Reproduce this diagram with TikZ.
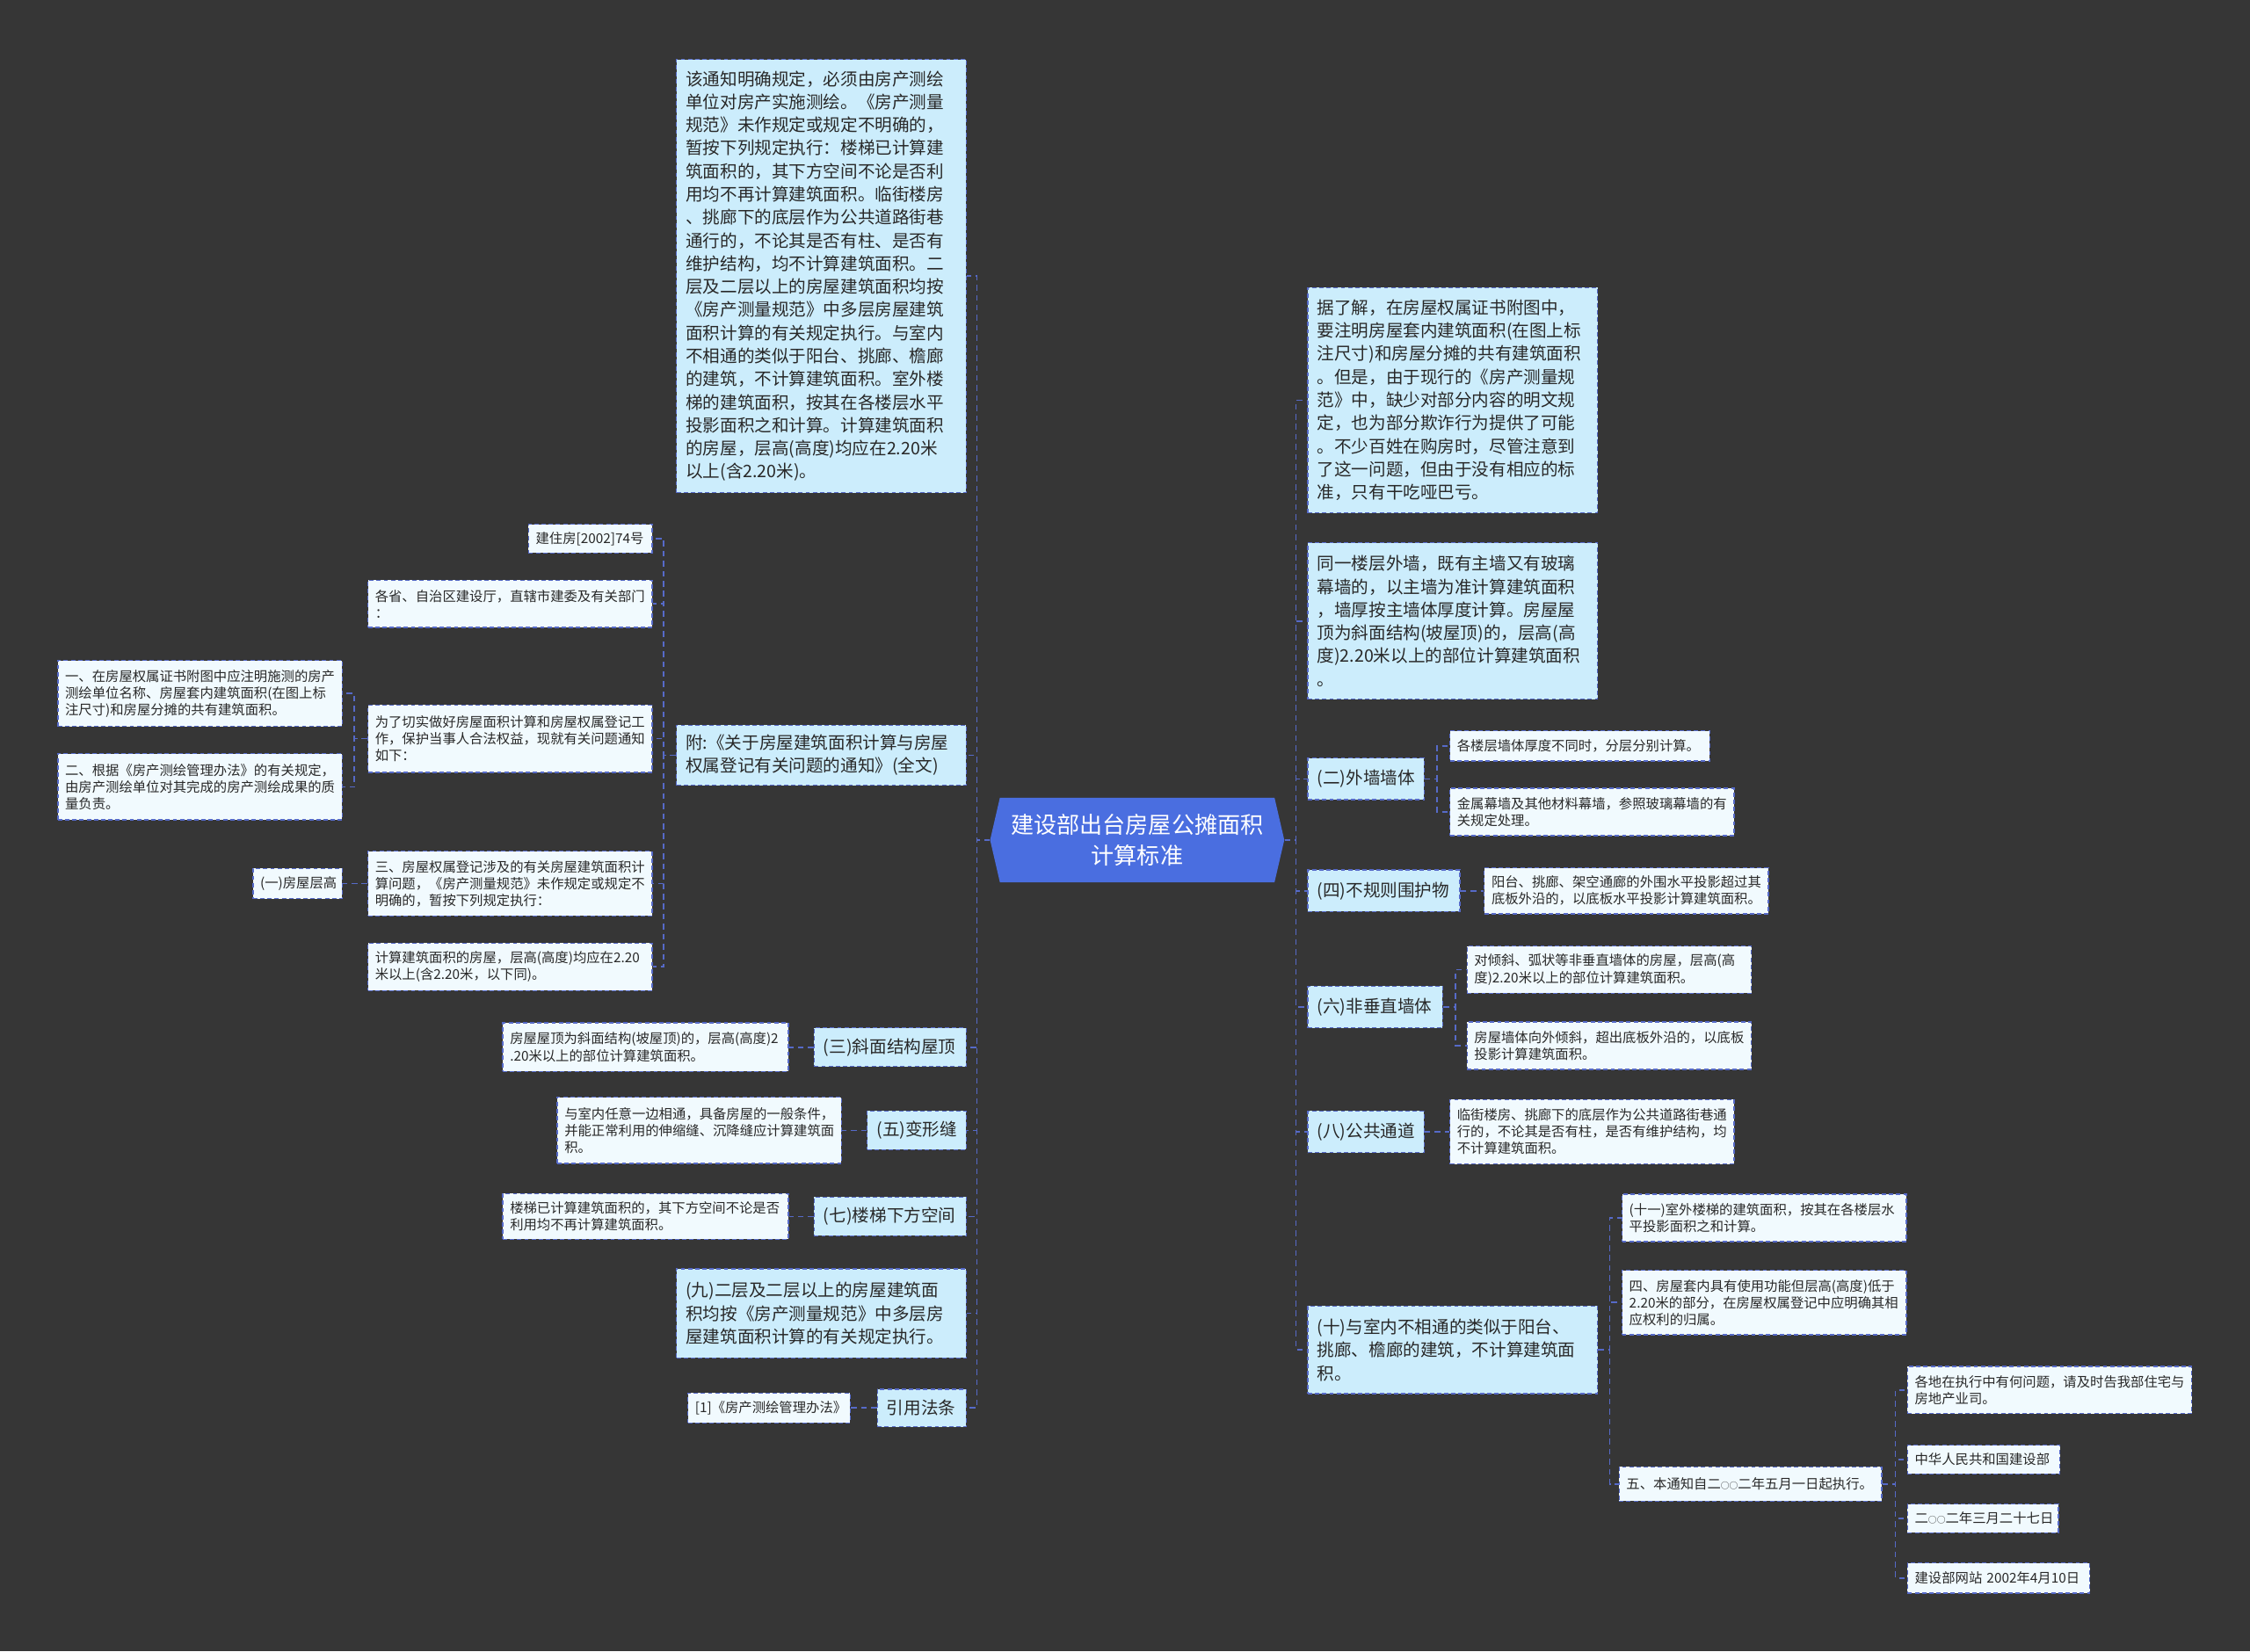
\documentclass[tikz,border=0pt]{standalone}
\usepackage{fontspec}
\setmainfont{Noto Sans CJK SC}
\usepackage{tikz}
\usetikzlibrary{shapes.symbols}
\definecolor{bgdark}{RGB}{54,54,54}
\definecolor{boxblue}{RGB}{204,237,252}
\definecolor{boxpale}{RGB}{241,250,254}
\definecolor{linkblue}{RGB}{86,106,200}
\definecolor{rootblue}{RGB}{74,110,224}
\definecolor{inkgray}{RGB}{40,40,40}
\newcommand\lingq{{\fontsize{6}{6}\selectfont ○}}

\begin{document}
\begin{tikzpicture}[x=1pt,y=-1pt,
    lone/.style={draw=linkblue,dash pattern=on 3pt off 2pt,line width=0.8pt,fill=boxblue,text=inkgray,
      anchor=north west,align=left,inner xsep=6.5pt,inner ysep=0pt,font=\fontsize{12}{16.1}\selectfont},
    ltwo/.style={draw=linkblue,dash pattern=on 3pt off 2pt,line width=0.8pt,fill=boxpale,text=inkgray,
      anchor=north west,align=left,inner xsep=5pt,inner ysep=0pt,font=\fontsize{9.4}{11.7}\selectfont},
    link/.style={draw=linkblue,dash pattern=on 4pt off 3pt,line width=1pt}]
  \fill[bgdark] (0,0) rectangle (1568,1151);
  \useasboundingbox (0,0) rectangle (1568,1151);

  \node[signal,signal to=west and east,signal pointer angle=154,fill=rootblue,text=white,
    minimum width=205pt,minimum height=59pt,inner sep=0pt,align=center,
    font=\fontsize{16}{21}\selectfont] (root) at (792.5,585.5) {建设部出台房屋公摊面积\\计算标准};

  \node[lone,text width=189pt,minimum height=302pt] (note) at (471,41) {该通知明确规定，必须由房产测绘\\单位对房产实施测绘。《房产测量\\规范》未作规定或规定不明确的，\\暂按下列规定执行：楼梯已计算建\\筑面积的，其下方空间不论是否利\\用均不再计算建筑面积。临街楼房\\、挑廊下的底层作为公共道路街巷\\通行的，不论其是否有柱、是否有\\维护结构，均不计算建筑面积。二\\层及二层以上的房屋建筑面积均按\\《房产测量规范》中多层房屋建筑\\面积计算的有关规定执行。与室内\\不相通的类似于阳台、挑廊、檐廊\\的建筑，不计算建筑面积。室外楼\\梯的建筑面积，按其在各楼层水平\\投影面积之和计算。计算建筑面积\\的房屋，层高(高度)均应在2.20米\\以上(含2.20米)。};
  \node[lone,text width=189pt,minimum height=42pt] (fu) at (471,505) {附:《关于房屋建筑面积计算与房屋\\权属登记有关问题的通知》(全文)};
  \node[lone,text width=93pt,minimum height=27pt] (xmwd) at (567,716) {(三)斜面结构屋顶};
  \node[lone,text width=56pt,minimum height=27pt] (bxf) at (604,774) {(五)变形缝};
  \node[lone,text width=93pt,minimum height=27pt] (ltkj) at (567,834) {(七)楼梯下方空间};
  \node[lone,text width=189pt,minimum height=62pt] (jiu) at (471,884) {(九)二层及二层以上的房屋建筑面\\积均按《房产测量规范》中多层房\\屋建筑面积计算的有关规定执行。};
  \node[lone,text width=49pt,minimum height=26pt] (yyfl) at (611,968) {引用法条};

  \node[ltwo,text width=76pt,minimum height=20pt] (wenhao) at (368,365) {建住房[2002]74号};
  \node[ltwo,text width=188pt,minimum height=33pt] (gesheng) at (256,404) {各省、自治区建设厅，直辖市建委及有关部门\\：};
  \node[ltwo,text width=188pt,minimum height=47pt] (weile) at (256,491) {为了切实做好房屋面积计算和房屋权属登记工\\作，保护当事人合法权益，现就有关问题通知\\如下：};
  \node[ltwo,text width=188pt,minimum height=45pt] (san) at (256,593) {三、房屋权属登记涉及的有关房屋建筑面积计\\算问题，《房产测量规范》未作规定或规定不\\明确的，暂按下列规定执行：};
  \node[ltwo,text width=188pt,minimum height=33pt] (jisuan) at (256,657) {计算建筑面积的房屋，层高(高度)均应在2.20\\米以上(含2.20米，以下同)。};
  \node[ltwo,text width=189pt,minimum height=34pt] (wuding) at (350,712.5) {房屋屋顶为斜面结构(坡屋顶)的，层高(高度)2\\.20米以上的部位计算建筑面积。};
  \node[ltwo,text width=188pt,minimum height=46pt] (shinei) at (388,764.5) {与室内任意一边相通，具备房屋的一般条件，\\并能正常利用的伸缩缝、沉降缝应计算建筑面\\积。};
  \node[ltwo,text width=189pt,minimum height=32pt] (louti) at (350,831.5) {楼梯已计算建筑面积的，其下方空间不论是否\\利用均不再计算建筑面积。};
  \node[ltwo,text width=103pt,minimum height=21pt] (banfa) at (479,970.5) {[1]《房产测绘管理办法》};

  \node[ltwo,text width=188pt,minimum height=46pt] (yi) at (40,460) {一、在房屋权属证书附图中应注明施测的房产\\测绘单位名称、房屋套内建筑面积(在图上标\\注尺寸)和房屋分摊的共有建筑面积。};
  \node[ltwo,text width=188pt,minimum height=46pt] (er) at (40,525) {二、根据《房产测绘管理办法》的有关规定，\\由房产测绘单位对其完成的房产测绘成果的质\\量负责。};
  \node[ltwo,text width=52pt,minimum height=21pt] (cenggao) at (176,605) {(一)房屋层高};

  \node[lone,text width=189pt,minimum height=157pt] (liaojie) at (911,200) {据了解，在房屋权属证书附图中，\\要注明房屋套内建筑面积(在图上标\\注尺寸)和房屋分摊的共有建筑面积\\。但是，由于现行的《房产测量规\\范》中，缺少对部分内容的明文规\\定，也为部分欺诈行为提供了可能\\。不少百姓在购房时，尽管注意到\\了这一问题，但由于没有相应的标\\准，只有干吃哑巴亏。};
  \node[lone,text width=189pt,minimum height=109pt] (waiqiang) at (911,378) {同一楼层外墙，既有主墙又有玻璃\\幕墙的，以主墙为准计算建筑面积\\，墙厚按主墙体厚度计算。房屋屋\\顶为斜面结构(坡屋顶)的，层高(高\\度)2.20米以上的部位计算建筑面积\\。};
  \node[lone,text width=68pt,minimum height=29pt] (wqqt) at (911,528) {(二)外墙墙体};
  \node[lone,text width=93pt,minimum height=29pt] (bgzw) at (911,606) {(四)不规则围护物};
  \node[lone,text width=81pt,minimum height=29pt] (fczq) at (911,687) {(六)非垂直墙体};
  \node[lone,text width=68pt,minimum height=29pt] (ggtd) at (911,774) {(八)公共通道};
  \node[lone,text width=189pt,minimum height=61pt] (shi) at (911,910) {(十)与室内不相通的类似于阳台、\\挑廊、檐廊的建筑，不计算建筑面\\积。};

  \node[ltwo,text width=171pt,minimum height=21pt] (houdu) at (1010,509) {各楼层墙体厚度不同时，分层分别计算。};
  \node[ltwo,text width=188pt,minimum height=33pt] (jinshu) at (1010,549) {金属幕墙及其他材料幕墙，参照玻璃幕墙的有\\关规定处理。};
  \node[ltwo,text width=188pt,minimum height=32pt] (yangtai) at (1034,604.5) {阳台、挑廊、架空通廊的外围水平投影超过其\\底板外沿的，以底板水平投影计算建筑面积。};
  \node[ltwo,text width=188pt,minimum height=33pt] (qingxie) at (1022,659) {对倾斜、弧状等非垂直墙体的房屋，层高(高\\度)2.20米以上的部位计算建筑面积。};
  \node[ltwo,text width=188pt,minimum height=33pt] (xiangwai) at (1022,712) {房屋墙体向外倾斜，超出底板外沿的，以底板\\投影计算建筑面积。};
  \node[ltwo,text width=188pt,minimum height=45pt] (linjie) at (1010,766) {临街楼房、挑廊下的底层作为公共道路街巷通\\行的，不论其是否有柱，是否有维护结构，均\\不计算建筑面积。};
  \node[ltwo,text width=188pt,minimum height=33pt] (shiyi) at (1130,832) {(十一)室外楼梯的建筑面积，按其在各楼层水\\平投影面积之和计算。};
  \node[ltwo,text width=188pt,minimum height=45pt] (si) at (1130,885) {四、房屋套内具有使用功能但层高(高度)低于\\2.20米的部分，在房屋权属登记中应明确其相\\应权利的归属。};
  \node[ltwo,text width=173pt,minimum height=24pt] (wu) at (1128,1022) {五、本通知自二\lingq\lingq 二年五月一日起执行。};

  \node[ltwo,text width=188pt,minimum height=33pt] (gedi) at (1329,952) {各地在执行中有何问题，请及时告我部住宅与\\房地产业司。};
  \node[ltwo,text width=96pt,minimum height=20pt] (buming) at (1329,1007) {中华人民共和国建设部};
  \node[ltwo,text width=95pt,minimum height=20pt] (riqi) at (1329,1048) {二\lingq\lingq 二年三月二十七日};
  \node[ltwo,text width=117pt,minimum height=21pt] (wangzhan) at (1329,1089) {建设部网站 2002年4月10日};

  \draw[link] (root.west) -- ++(-9,0) |- (note.east);
  \draw[link] (root.west) -- ++(-9,0) |- (fu.east);
  \draw[link] (root.west) -- ++(-9,0) |- (xmwd.east);
  \draw[link] (root.west) -- ++(-9,0) |- (bxf.east);
  \draw[link] (root.west) -- ++(-9,0) |- (ltkj.east);
  \draw[link] (root.west) -- ++(-9,0) |- (jiu.east);
  \draw[link] (root.west) -- ++(-9,0) |- (yyfl.east);
  \draw[link] (root.east) -- ++(8,0) |- (liaojie.west);
  \draw[link] (root.east) -- ++(8,0) |- (waiqiang.west);
  \draw[link] (root.east) -- ++(8,0) |- (wqqt.west);
  \draw[link] (root.east) -- ++(8,0) |- (bgzw.west);
  \draw[link] (root.east) -- ++(8,0) |- (fczq.west);
  \draw[link] (root.east) -- ++(8,0) |- (ggtd.west);
  \draw[link] (root.east) -- ++(8,0) |- (shi.west);

  \draw[link] (fu.west) -- ++(-8.5,0) |- (wenhao.east);
  \draw[link] (fu.west) -- ++(-8.5,0) |- (gesheng.east);
  \draw[link] (fu.west) -- ++(-8.5,0) |- (weile.east);
  \draw[link] (fu.west) -- ++(-8.5,0) |- (san.east);
  \draw[link] (fu.west) -- ++(-8.5,0) |- (jisuan.east);
  \draw[link] (weile.west) -- ++(-9,0) |- (yi.east);
  \draw[link] (weile.west) -- ++(-9,0) |- (er.east);
  \draw[link] (san.west) -- (cenggao.east);
  \draw[link] (xmwd.west) -- (wuding.east);
  \draw[link] (bxf.west) -- (shinei.east);
  \draw[link] (ltkj.west) -- (louti.east);
  \draw[link] (yyfl.west) -- (banfa.east);

  \draw[link] (wqqt.east) -- ++(8.5,0) |- (houdu.west);
  \draw[link] (wqqt.east) -- ++(8.5,0) |- (jinshu.west);
  \draw[link] (bgzw.east) -- (yangtai.west);
  \draw[link] (fczq.east) -- ++(8.5,0) |- (qingxie.west);
  \draw[link] (fczq.east) -- ++(8.5,0) |- (xiangwai.west);
  \draw[link] (ggtd.east) -- (linjie.west);
  \draw[link] (shi.east) -- ++(8,0) |- (shiyi.west);
  \draw[link] (shi.east) -- ++(8,0) |- (si.west);
  \draw[link] (shi.east) -- ++(8,0) |- (wu.west);
  \draw[link] (wu.east) -- ++(9,0) |- (gedi.west);
  \draw[link] (wu.east) -- ++(9,0) |- (buming.west);
  \draw[link] (wu.east) -- ++(9,0) |- (riqi.west);
  \draw[link] (wu.east) -- ++(9,0) |- (wangzhan.west);
\end{tikzpicture}
\end{document}
